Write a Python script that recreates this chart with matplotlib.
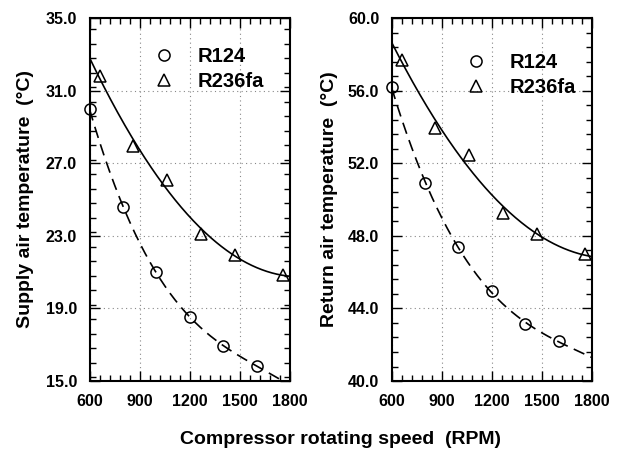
import numpy as np
import matplotlib
matplotlib.use("Agg")
import matplotlib.pyplot as plt
from matplotlib.ticker import MultipleLocator, FormatStrFormatter

plt.rcParams['font.family'] = ['Liberation Sans', 'DejaVu Sans']
plt.rcParams['font.weight'] = 'bold'

# Data
rpm_r124 = [600, 800, 1000, 1200, 1400, 1600]
rpm_r236 = [660, 860, 1065, 1265, 1468, 1757]
supply_r124 = [30.0, 24.6, 21.0, 18.54, 16.93, 15.84]
supply_r236 = [31.8, 27.96, 26.1, 23.1, 21.95, 20.84]
return_r124 = [56.2, 50.9, 47.4, 44.95, 43.13, 42.2]
return_r236 = [57.7, 53.94, 52.47, 49.25, 48.1, 46.99]

xticks = [600, 900, 1200, 1500, 1800]
supply_ticks = [15.0, 19.0, 23.0, 27.0, 31.0, 35.0]
return_ticks = [40.0, 44.0, 48.0, 52.0, 56.0, 60.0]

fig = plt.figure(figsize=(6.23, 4.5), dpi=100)
ax1 = fig.add_axes([0.1437, 0.1533, 0.3218, 0.806])
ax2 = fig.add_axes([0.6287, 0.1533, 0.3215, 0.806])

xfit = np.linspace(600, 1800, 200)

def draw(ax, x1, y1, x2, y2, yticks, deg1, deg2):
    c1 = np.polyfit(x1, y1, deg1)
    c2 = np.polyfit(x2, y2, deg2)
    ax.plot(xfit, np.polyval(c1, xfit), color='black', lw=1.2, ls=(0, (7, 4)))
    ax.plot(xfit, np.polyval(c2, xfit), color='black', lw=1.2, ls='-')
    ax.plot(x1, y1, ls='none', marker='o', ms=8, mfc='none', mec='black', mew=1.1,
            label='R124', clip_on=False)
    ax.plot(x2, y2, ls='none', marker='^', ms=9, mfc='none', mec='black', mew=1.1,
            label='R236fa', clip_on=False)
    ax.set_xlim(xticks[0], xticks[-1])
    ax.set_ylim(yticks[0], yticks[-1])
    ax.set_xticks(xticks)
    ax.set_yticks(yticks)
    ax.xaxis.set_minor_locator(MultipleLocator(60))
    ax.yaxis.set_minor_locator(MultipleLocator(0.8))
    ax.yaxis.set_major_formatter(FormatStrFormatter('%.1f'))
    ax.tick_params(which='both', direction='in', top=True, right=True, width=1.0)
    ax.tick_params(which='major', length=7, pad=9, labelsize=11.5)
    ax.tick_params(which='minor', length=4)
    for lab in ax.get_xticklabels() + ax.get_yticklabels():
        lab.set_fontweight('bold')
    for s in ax.spines.values():
        s.set_linewidth(1.5)
    ax.grid(True, which='major', ls=(0, (1, 3)), color='#888888', lw=0.8)
    ax.set_axisbelow(True)

draw(ax1, rpm_r124, supply_r124, rpm_r236, supply_r236, supply_ticks, 3, 2)
draw(ax2, rpm_r124, return_r124, rpm_r236, return_r236, return_ticks, 3, 2)

leg_kw = dict(frameon=False, numpoints=1, handlelength=1.0, handletextpad=1.2,
              labelspacing=0.3, prop={'size': 14.5, 'weight': 'bold'},
              borderaxespad=0, borderpad=0)
ax1.legend(loc='upper left', bbox_to_anchor=(0.32, 0.92), **leg_kw)
ax2.legend(loc='upper left', bbox_to_anchor=(0.37, 0.905), **leg_kw)

fig.text(26 / 623, 1 - 199 / 450, 'Supply air temperature  (°C)', rotation=90,
         ha='center', va='center', fontsize=14, fontweight='bold')
fig.text(329 / 623, 1 - 199 / 450, 'Return air temperature  (°C)', rotation=90,
         ha='center', va='center', fontsize=14, fontweight='bold')
fig.text(340 / 623, 1 - 440 / 450, 'Compressor rotating speed  (RPM)',
         ha='center', va='center', fontsize=14, fontweight='bold')

fig.savefig('out.png', dpi=100)
